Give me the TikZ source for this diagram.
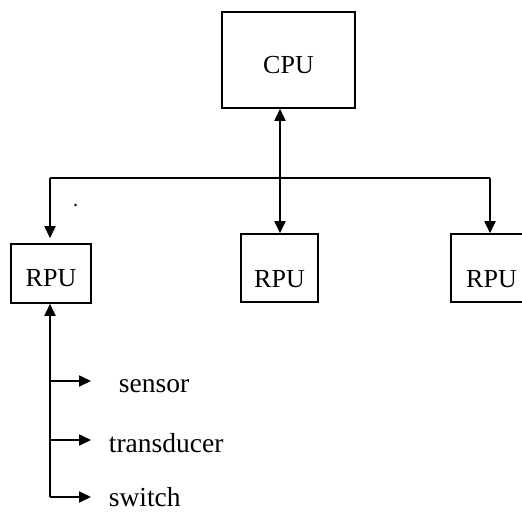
\documentclass[tikz,border=0pt]{standalone}
\usepackage{fontspec}
\setmainfont{Liberation Serif}
\usetikzlibrary{arrows.meta}
\newcommand{\boxtext}[2]{\raisebox{-#1pt}[0pt][0pt]{#2}}
\begin{document}
\begin{tikzpicture}[x=1pt,y=-1pt,
  line width=1.8pt,
  box/.style={draw, line width=1.6pt, inner sep=0pt, font=\fontsize{26}{28}\selectfont},
  lbl/.style={inner sep=0pt, anchor=base west, font=\fontsize{27.5}{30}\selectfont},
  head/.tip={Triangle[length=12pt,width=11pt]},
  tip/.style={-head},
  tips/.style={head-head}]
\useasboundingbox (0,0) rectangle (522,512);
\clip (0,0) rectangle (522,512);
% boxes
\node[box, minimum width=133pt, minimum height=96pt] (cpu) at (288.5,60) {\boxtext{13}{CPU}};
\node[box, minimum width=80pt, minimum height=59pt] (rpu1) at (51,273.5) {\boxtext{13}{RPU}};
\node[box, minimum width=77pt, minimum height=68pt] (rpu2) at (279.5,268) {\boxtext{19}{RPU}};
\node[box, minimum width=81pt, minimum height=68pt] (rpu3) at (491.5,268) {\boxtext{19}{RPU}};
% bus coordinates
\coordinate (bl) at (50,178);
\coordinate (bm) at (280,178);
\coordinate (br) at (490,178);
% connectors
\draw (bl) -- (br);
\draw[tips] (cpu.south -| bm) -- (rpu2.north -| bm);
\draw[tip, shorten >=5pt] (bl) -- (rpu1.north -| bl);
\draw[tip] (br) -- (rpu3.north -| br);
% peripheral line
\coordinate (vtop) at (50,303);
\coordinate (s1) at (50,381);
\coordinate (s2) at (50,440);
\coordinate (s3) at (50,497);
\draw[head-] (rpu1.south -| vtop) -- (s3);
\node[lbl] (sensor) at (118,392) {sensor};
\node[lbl] (trans) at (108,452) {transducer};
\node[lbl] (switch) at (108,506) {switch};
\draw[tip] (s1) -- (s1 -| 91,0);
\draw[tip] (s2) -- (s2 -| 91,0);
\draw[tip] (s3) -- (s3 -| 91,0);
% stray dot
\fill (75.5,205) circle (1.3pt);
\end{tikzpicture}
\end{document}
